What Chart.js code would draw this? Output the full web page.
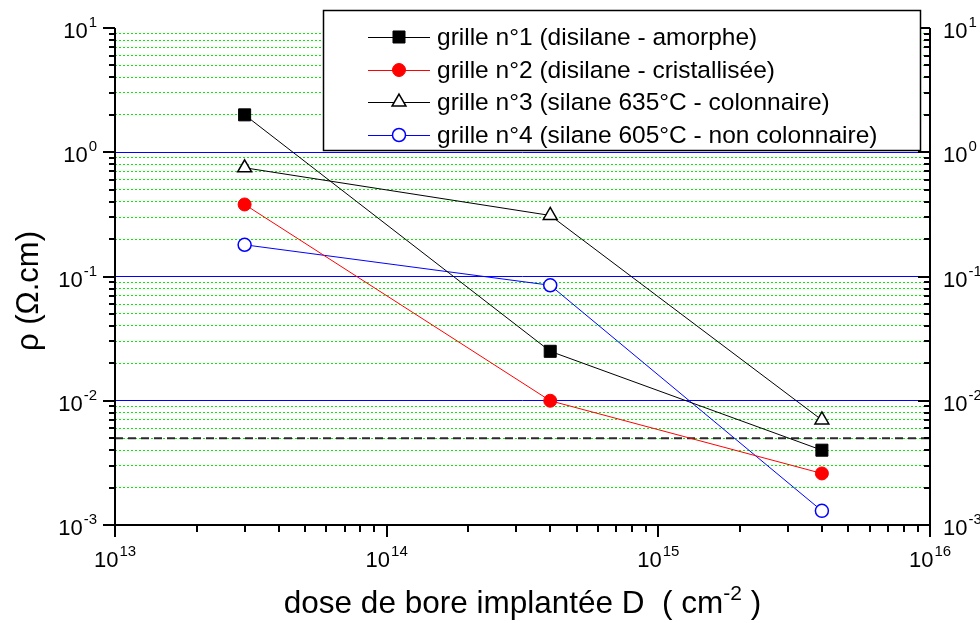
<!DOCTYPE html>
<html><head><meta charset="utf-8">
<script src="https://cdn.jsdelivr.net/npm/chart.js@4/dist/chart.umd.min.js"></script>
<style>html,body{margin:0;padding:0;background:#fff}#wrap{width:980px;height:623px;position:relative}</style>
</head><body><div id="wrap"><canvas id="c" width="980" height="623"></canvas></div>
<script>
// ---- data ----
const doses = [3e13, 4e14, 4e15];
const grille1 = [2.0, 0.025, 0.004];
const grille2 = [0.38, 0.010, 0.0026];
const grille3 = [0.75, 0.31, 0.007];
const grille4 = [0.18, 0.085, 0.0013];
const seriesLabels = [
  'grille n°1 (disilane - amorphe)',
  'grille n°2 (disilane - cristallisée)',
  'grille n°3 (silane 635°C - colonnaire)',
  'grille n°4 (silane 605°C - non colonnaire)'
];
const refX = [1e13, 1e16];
const refY = [0.005, 0.005];
const xExponents = [13, 14, 15, 16];
const yExponents = [-3, -2, -1, 0, 1];
const xTitleMain = 'dose de bore implantée D  ( cm';
const xTitleSup = '-2';
const xTitleEnd = ' )';
const yTitle = 'ρ (Ω.cm)';

const FONT = '"Liberation Sans", Arial, sans-serif';
const pts = (xs, ys) => xs.map((x, i) => ({x, y: ys[i]}));
function logTicks(e0, e1) {
  const t = [];
  for (let e = e0; e < e1; e++) for (let m = 1; m <= 9; m++) t.push(m * Math.pow(10, e));
  t.push(Math.pow(10, e1));
  return t;
}
const isMajor = v => { const l = Math.log10(v); return Math.abs(l - Math.round(l)) < 1e-6; };

const styles = [
  {color: '#000000', style: 'rect', r: 8.5, fill: '#000000', bw: 1},
  {color: '#ff0000', style: 'circle', r: 6.5, fill: '#ff0000', bw: 1},
  {color: '#000000', style: 'triangle', r: 8, fill: '#ffffff', bw: 1.5},
  {color: '#0000ff', style: 'circle', r: 6.5, fill: '#ffffff', bw: 1.5}
];
const series = [grille1, grille2, grille3, grille4];
const datasets = series.map((s, i) => ({
  label: seriesLabels[i],
  data: pts(doses, s),
  borderColor: styles[i].color,
  borderWidth: 1,
  pointStyle: styles[i].style,
  pointRadius: styles[i].r,
  pointBackgroundColor: styles[i].fill,
  pointBorderColor: styles[i].color,
  pointBorderWidth: styles[i].bw,
  tension: 0,
  fill: false
}));
datasets.push({
  label: 'ref',
  data: pts(refX, refY),
  borderColor: '#2a2a2a',
  borderWidth: 2,
  borderDash: [8, 5],
  pointRadius: 0,
  fill: false
});

function drawMarker(ctx, st, x, y) {
  ctx.save();
  ctx.lineWidth = st.bw;
  ctx.strokeStyle = st.color;
  ctx.fillStyle = st.fill;
  ctx.beginPath();
  if (st.style === 'rect') {
    const s = Math.SQRT1_2 * st.r;
    ctx.rect(x - s, y - s, 2 * s, 2 * s);
  } else if (st.style === 'circle') {
    ctx.arc(x, y, st.r, 0, Math.PI * 2);
  } else {
    const r = st.r;
    ctx.moveTo(x, y - r);
    ctx.lineTo(x + r * Math.sin(2 * Math.PI / 3), y - r * Math.cos(2 * Math.PI / 3));
    ctx.lineTo(x + r * Math.sin(4 * Math.PI / 3), y - r * Math.cos(4 * Math.PI / 3));
    ctx.closePath();
  }
  ctx.fill();
  ctx.stroke();
  ctx.restore();
}

function powLabel(ctx, exp, x, y, align) {
  ctx.font = '22px ' + FONT;
  const w10 = ctx.measureText('10').width;
  ctx.font = '15px ' + FONT;
  const ws = ctx.measureText(String(exp)).width;
  const tot = w10 + 1 + ws;
  let x0 = align === 'right' ? x - tot : align === 'center' ? x - tot / 2 : x;
  ctx.textAlign = 'left';
  ctx.textBaseline = 'alphabetic';
  ctx.font = '22px ' + FONT;
  ctx.fillText('10', x0, y);
  ctx.font = '15px ' + FONT;
  ctx.fillText(String(exp), x0 + w10 + 1, y - 11);
}

const framePlugin = {
  id: 'frame',
  afterDraw(chart) {
    const {ctx, chartArea: a, scales} = chart;
    const xs = scales.x, ys = scales.y;
    ctx.save();
    ctx.strokeStyle = '#000';
    ctx.fillStyle = '#000';
    ctx.lineWidth = 2;
    ctx.beginPath();
    ctx.moveTo(a.left, a.top); ctx.lineTo(a.left, a.bottom + 1);
    ctx.moveTo(a.right, a.top); ctx.lineTo(a.right, a.bottom + 1);
    ctx.moveTo(a.left - 1, a.bottom); ctx.lineTo(a.right + 1, a.bottom);
    ctx.stroke();
    ctx.beginPath();
    ys.ticks.forEach(t => {
      const p = Math.round(ys.getPixelForValue(t.value));
      const L = isMajor(t.value) ? 12 : 6;
      ctx.moveTo(a.left - L, p); ctx.lineTo(a.left, p);
      ctx.moveTo(a.right - L, p); ctx.lineTo(a.right, p);
    });
    xs.ticks.forEach(t => {
      const p = Math.round(xs.getPixelForValue(t.value));
      const L = isMajor(t.value) ? 12 : 7;
      ctx.moveTo(p, a.bottom); ctx.lineTo(p, a.bottom + L);
    });
    ctx.stroke();
    yExponents.forEach(e => {
      const p = ys.getPixelForValue(Math.pow(10, e));
      powLabel(ctx, e, 97, p + 10, 'right');
      powLabel(ctx, e, 943, p + 10, 'left');
    });
    xExponents.forEach(e => {
      const p = xs.getPixelForValue(Math.pow(10, e));
      powLabel(ctx, e, p, 567, 'center');
    });
    // x title
    ctx.font = '31.5px ' + FONT;
    const wm = ctx.measureText(xTitleMain).width;
    const we = ctx.measureText(xTitleEnd).width;
    ctx.font = '21px ' + FONT;
    const wsup = ctx.measureText(xTitleSup).width;
    const tot = wm + wsup + we;
    const cx = (a.left + a.right) / 2;
    let x0 = cx - tot / 2;
    ctx.textAlign = 'left';
    ctx.font = '31.5px ' + FONT;
    ctx.fillText(xTitleMain, x0, 613);
    ctx.font = '21px ' + FONT;
    ctx.fillText(xTitleSup, x0 + wm, 600);
    ctx.font = '31.5px ' + FONT;
    ctx.fillText(xTitleEnd, x0 + wm + wsup, 613);
    // y title
    ctx.save();
    ctx.translate(38, 291);
    ctx.rotate(-Math.PI / 2);
    ctx.textAlign = 'center';
    ctx.font = '31px ' + FONT;
    ctx.fillText(yTitle, 0, 0);
    ctx.restore();
    // legend
    const bx = 323, by = 10, bw = 597, bh = 140;
    ctx.fillStyle = '#fff';
    ctx.fillRect(bx, by, bw, bh);
    ctx.lineWidth = 1.5;
    ctx.strokeStyle = '#000';
    ctx.strokeRect(bx + 0.5, by + 0.5, bw, bh);
    const rowsY = [37, 70, 102, 135];
    chart.data.datasets.slice(0, 4).forEach((ds, i) => {
      const yy = rowsY[i];
      ctx.lineWidth = 1;
      ctx.strokeStyle = ds.borderColor;
      ctx.beginPath();
      ctx.moveTo(368, yy + 0.5); ctx.lineTo(430, yy + 0.5);
      ctx.stroke();
      drawMarker(ctx, styles[i], 399, yy);
      ctx.fillStyle = '#000';
      ctx.font = '24.5px ' + FONT;
      ctx.textAlign = 'left';
      ctx.textBaseline = 'alphabetic';
      ctx.fillText(ds.label, 437, yy + 8);
    });
    ctx.restore();
  }
};

new Chart(document.getElementById('c'), {
  type: 'line',
  data: {datasets},
  options: {
    responsive: false,
    animation: false,
    events: [],
    layout: {padding: {top: 28, left: 0, right: 0, bottom: 0}},
    plugins: {legend: {display: false}, tooltip: {enabled: false}, title: {display: false}},
    scales: {
      x: {
        type: 'logarithmic', position: 'bottom', min: 1e13, max: 1e16,
        ticks: {display: false},
        grid: {display: false},
        border: {display: false},
        afterBuildTicks: s => { s.ticks = logTicks(13, 16).map(v => ({value: v})); },
        afterFit: s => { s.height = 98; }
      },
      y: {
        type: 'logarithmic', position: 'left', min: 1e-3, max: 10,
        ticks: {display: false},
        grid: {
          drawTicks: false,
          lineWidth: 1,
          color: c => {
            const v = c.tick ? c.tick.value : 1;
            if (isMajor(v)) {
              if (Math.abs(Math.log10(v) - 1) < 1e-6 || Math.abs(Math.log10(v) + 3) < 1e-6) return 'rgba(0,0,0,0)';
              return '#0000ff';
            }
            return '#00ee00';
          }
        },
        border: {display: false, dash: c => (c.tick && !isMajor(c.tick.value)) ? [2, 2] : []},
        afterBuildTicks: s => { s.ticks = logTicks(-3, 1).map(v => ({value: v})); },
        afterFit: s => { s.width = 115; }
      },
      y2: {
        type: 'logarithmic', position: 'right', min: 1e-3, max: 10,
        ticks: {display: false},
        grid: {display: false},
        border: {display: false},
        afterFit: s => { s.width = 50; }
      }
    }
  },
  plugins: [framePlugin]
});
</script>
</body></html>
